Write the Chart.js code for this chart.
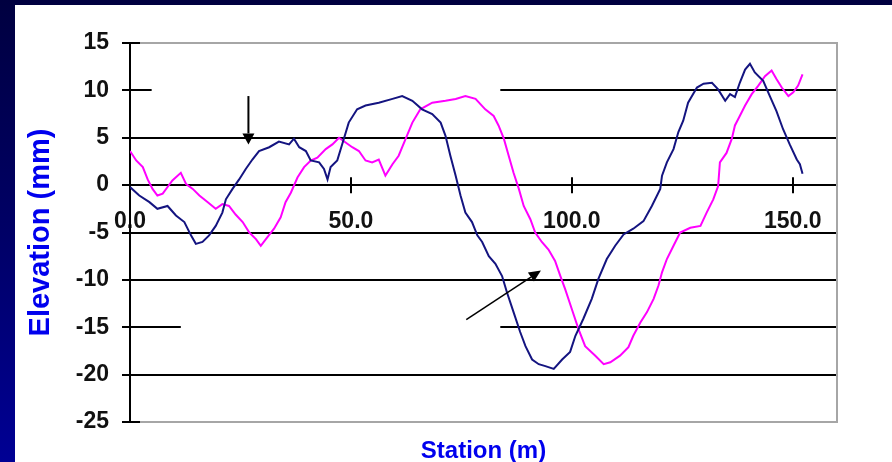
<!DOCTYPE html>
<html>
<head>
<meta charset="utf-8">
<script src="https://cdn.jsdelivr.net/npm/chart.js@4/dist/chart.umd.min.js"></script>
<style>
  html, body { margin: 0; padding: 0; }
  body {
    width: 892px; height: 462px; overflow: hidden; position: relative;
    background: linear-gradient(180deg, #000040 0%, #000066 50%, #000094 100%);
  }
  #panel {
    position: absolute; left: 15px; top: 5px; width: 877px; height: 457px;
    background: #ffffff;
  }
  canvas { display: block; }
</style>
</head>
<body>
<div id="panel"><canvas id="profile" width="877" height="457"></canvas></div>
<script>
// Elevation profiles along the station line (station in m, elevation in mm)
const stationA = [0.0, 2.1, 4.4, 6.2, 8.5, 10.4, 12.3, 13.8, 14.9, 16.4, 17.9, 19.4, 20.9, 21.7, 23.2, 24.7, 26.2, 27.7, 29.2, 31.5, 33.7, 36.0, 37.1, 38.3, 39.8, 40.9, 42.8, 43.9, 44.7, 45.4, 46.9, 48.4, 49.5, 51.4, 53.3, 56.3, 59.4, 61.6, 63.9, 66.1, 68.4, 70.3, 71.4, 72.5, 73.7, 74.8, 75.9, 77.4, 78.6, 79.7, 81.2, 82.7, 84.2, 85.3, 86.8, 88.3, 89.5, 91.0, 92.5, 94.0, 95.9, 97.8, 99.6, 100.8, 102.6, 104.5, 106.0, 107.9, 109.8, 111.7, 113.9, 116.2, 118.1, 120.0, 120.4, 121.5, 123.0, 124.1, 125.2, 126.3, 128.3, 129.8, 131.7, 133.1, 134.7, 135.8, 136.9, 138.0, 139.2, 140.3, 141.4, 143.3, 144.8, 146.3, 147.8, 149.3, 150.9, 151.6, 152.2];
const elevationA = [-0.2, -1.1, -1.8, -2.5, -2.2, -3.2, -3.9, -5.3, -6.2, -6.0, -5.3, -4.3, -2.9, -1.5, -0.4, 0.6, 1.7, 2.7, 3.6, 4.0, 4.6, 4.3, 4.9, 4.0, 3.6, 2.6, 2.4, 1.7, 0.6, 1.9, 2.6, 4.9, 6.6, 8.0, 8.4, 8.7, 9.1, 9.4, 8.9, 8.0, 7.5, 6.6, 5.2, 3.1, 1.0, -1.1, -2.9, -3.9, -5.3, -6.0, -7.5, -8.3, -9.6, -11.3, -13.4, -15.5, -17.0, -18.4, -18.9, -19.1, -19.4, -18.4, -17.6, -15.9, -14.1, -12.0, -9.9, -7.8, -6.4, -5.2, -4.6, -3.8, -2.2, -0.4, 1.0, 2.4, 3.8, 5.6, 6.8, 8.7, 10.3, 10.7, 10.8, 10.1, 8.9, 9.6, 9.3, 10.8, 12.2, 12.8, 11.9, 11.0, 9.4, 7.8, 5.9, 4.3, 2.7, 2.2, 1.2];

const stationB = [0.0, 1.4, 2.9, 4.0, 5.1, 6.2, 7.4, 8.5, 9.6, 11.5, 12.7, 14.2, 15.7, 17.6, 19.4, 20.9, 22.4, 23.9, 25.5, 27.0, 28.5, 29.6, 31.1, 32.6, 34.1, 35.2, 36.4, 37.9, 39.4, 40.9, 42.4, 44.3, 45.8, 47.3, 48.8, 50.3, 51.8, 53.3, 54.8, 56.3, 57.8, 59.4, 60.8, 62.4, 63.9, 65.7, 68.4, 71.4, 73.7, 75.9, 78.2, 80.4, 82.3, 83.4, 84.6, 85.7, 86.8, 88.0, 89.1, 90.6, 91.7, 93.2, 94.7, 96.2, 97.4, 98.5, 100.0, 101.5, 103.0, 105.3, 107.2, 108.7, 110.9, 112.8, 113.9, 115.5, 117.0, 118.5, 119.6, 120.4, 121.5, 123.0, 124.5, 126.8, 129.1, 130.5, 132.0, 133.1, 133.5, 135.0, 136.2, 136.9, 138.0, 139.2, 140.7, 142.2, 143.7, 145.2, 146.3, 147.5, 149.0, 150.1, 151.2, 152.2];
const elevationB = [3.6, 2.6, 1.9, 0.6, -0.4, -1.1, -0.9, -0.2, 0.5, 1.3, 0.1, -0.4, -1.1, -1.8, -2.5, -2.0, -2.2, -3.1, -3.9, -5.0, -5.7, -6.4, -5.5, -4.6, -3.4, -1.8, -0.8, 0.8, 1.9, 2.6, 2.9, 3.8, 4.3, 5.0, 4.5, 4.0, 3.6, 2.6, 2.4, 2.7, 1.0, 2.2, 3.1, 4.9, 6.6, 8.0, 8.7, 8.9, 9.1, 9.4, 9.1, 8.0, 7.3, 6.3, 4.9, 3.1, 1.3, -0.4, -2.2, -3.6, -5.0, -6.0, -6.8, -8.0, -9.6, -11.0, -13.1, -15.2, -17.0, -18.0, -18.9, -18.7, -18.0, -17.1, -15.9, -14.5, -13.4, -12.0, -10.6, -9.2, -7.8, -6.4, -5.0, -4.5, -4.3, -2.9, -1.5, -0.1, 2.4, 3.4, 4.9, 6.3, 7.3, 8.4, 9.6, 10.5, 11.5, 12.1, 11.2, 10.3, 9.4, 9.8, 10.5, 11.7];

// Axis ticks
const stationTicks = [0, 50, 100, 150];
const elevationTicks = [15, 10, 5, 0, -5, -10, -15, -20, -25];

// Annotation arrows: [fromStation, fromElevation, toStation, toElevation]
const arrowA = [26.8, 9.4, 26.8, 4.3];
const arrowB = [76.1, -14.2, 93.0, -9.0];

// Grid segments hidden behind the label boxes: [elevation, fromStation, toStation]
const gridGaps = [[10, 4.9, 83.8], [-15, 11.5, 83.8]];

const toPoints = (xs, ys) => xs.map((x, i) => ({ x, y: ys[i] }));

const FONT = "'Liberation Sans', Arial, sans-serif";

const decorations = {
  id: 'decorations',
  beforeDatasetsDraw(chart) {
    const { ctx, chartArea: a, scales: { x, y } } = chart;
    ctx.save();
    // grey frame on top, right and bottom
    ctx.strokeStyle = '#a6a6a6';
    ctx.lineWidth = 2;
    ctx.beginPath();
    ctx.moveTo(a.left + 10, a.top);
    ctx.lineTo(a.right, a.top);
    ctx.lineTo(a.right, a.bottom);
    ctx.lineTo(a.left + 10, a.bottom);
    ctx.stroke();
    // short dark stubs where the frame meets the value axis
    ctx.strokeStyle = '#000000';
    ctx.beginPath();
    ctx.moveTo(a.left, a.top); ctx.lineTo(a.left + 10, a.top);
    ctx.moveTo(a.left, a.bottom); ctx.lineTo(a.left + 10, a.bottom);
    ctx.stroke();
    // interrupted grid lines
    ctx.fillStyle = '#ffffff';
    gridGaps.forEach(([v, x0, x1]) => {
      const py = y.getPixelForValue(v);
      const px0 = x.getPixelForValue(x0), px1 = x.getPixelForValue(x1);
      ctx.fillRect(px0, py - 2.5, px1 - px0, 5);
    });
    // tick marks crossing the station axis
    const axisY = y.getPixelForValue(0);
    ctx.strokeStyle = '#000000';
    ctx.lineWidth = 2;
    stationTicks.forEach(v => {
      if (v === 0) return;
      const px = Math.round(x.getPixelForValue(v));
      ctx.beginPath();
      ctx.moveTo(px, axisY - 8);
      ctx.lineTo(px, axisY + 8);
      ctx.stroke();
    });
    ctx.restore();
  },
  afterDatasetsDraw(chart) {
    const { ctx, scales: { x, y } } = chart;
    const drawArrow = ([sx, sy, ex, ey], head, width, lw) => {
      const x0 = x.getPixelForValue(sx), y0 = y.getPixelForValue(sy);
      const x1 = x.getPixelForValue(ex), y1 = y.getPixelForValue(ey);
      const ang = Math.atan2(y1 - y0, x1 - x0);
      const bx = x1 - head * Math.cos(ang), by = y1 - head * Math.sin(ang);
      ctx.save();
      ctx.strokeStyle = '#000000';
      ctx.fillStyle = '#000000';
      ctx.lineWidth = lw;
      ctx.beginPath();
      ctx.moveTo(x0, y0);
      ctx.lineTo(bx, by);
      ctx.stroke();
      ctx.beginPath();
      ctx.moveTo(x1, y1);
      ctx.lineTo(bx + width / 2 * Math.sin(ang), by - width / 2 * Math.cos(ang));
      ctx.lineTo(bx - width / 2 * Math.sin(ang), by + width / 2 * Math.cos(ang));
      ctx.closePath();
      ctx.fill();
      ctx.restore();
    };
    drawArrow(arrowA, 11, 12, 2);
    drawArrow(arrowB, 12, 11, 1.5);
  }
};

new Chart(document.getElementById('profile'), {
  type: 'line',
  data: {
    datasets: [
      {
        label: 'Profile A',
        data: toPoints(stationA, elevationA),
        borderColor: '#141480',
        borderWidth: 2,
        pointRadius: 0,
        tension: 0,
        fill: false
      },
      {
        label: 'Profile B',
        data: toPoints(stationB, elevationB),
        borderColor: '#ff00ff',
        borderWidth: 2,
        pointRadius: 0,
        tension: 0,
        fill: false
      }
    ]
  },
  options: {
    responsive: false,
    animation: false,
    devicePixelRatio: 1,
    layout: { padding: { top: 38, right: 55, bottom: 0, left: 0 } },
    plugins: { legend: { display: false }, tooltip: { enabled: false } },
    scales: {
      x: {
        type: 'linear',
        min: 0,
        max: 160,
        position: { y: 0 },
        afterBuildTicks: s => { s.ticks = stationTicks.map(v => ({ value: v })); },
        grid: { display: false, drawTicks: false },
        border: { display: true, color: '#000000', width: 2 },
        ticks: {
          padding: 23,
          color: '#111111',
          font: { family: FONT, size: 23, weight: 'bold' },
          callback: v => Number(v).toFixed(1),
          maxRotation: 0
        }
      },
      xTitle: {
        type: 'linear',
        position: 'bottom',
        afterFit: s => { s.height = 40; },
        grid: { display: false },
        border: { display: false },
        ticks: { display: false },
        title: {
          display: true,
          text: 'Station (m)',
          color: '#0000ee',
          font: { family: FONT, size: 24, weight: 'bold' },
          padding: { top: 0, bottom: -4 }
        }
      },
      y: {
        type: 'linear',
        min: -25,
        max: 15,
        afterBuildTicks: s => { s.ticks = elevationTicks.map(v => ({ value: v })); },
        afterFit: s => { s.width = 115; },
        grid: {
          color: c => (c.tick && (c.tick.value === 15 || c.tick.value === -25)) ? '#a6a6a6' : '#000000',
          tickColor: '#000000',
          lineWidth: 2,
          tickLength: 8
        },
        border: { display: true, color: '#000000', width: 2 },
        ticks: {
          padding: 13,
          color: '#111111',
          font: { family: FONT, size: 23, weight: 'bold' }
        },
        title: {
          display: true,
          text: 'Elevation (mm)',
          color: '#0000ee',
          font: { family: FONT, size: 29, weight: 'bold' },
          padding: { top: 9, bottom: 0 }
        }
      }
    }
  },
  plugins: [decorations]
});
</script>
</body>
</html>
